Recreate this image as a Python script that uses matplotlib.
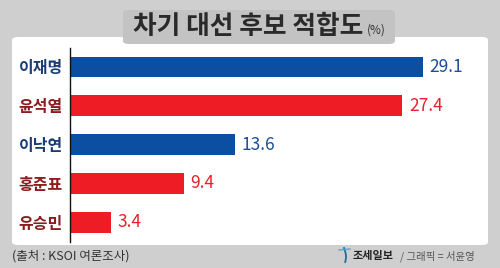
import matplotlib
matplotlib.use("Agg")
import matplotlib.pyplot as plt
from matplotlib.patches import FancyBboxPatch
import numpy as np

plt.rcParams['font.family'] = ['Noto Sans CJK KR', 'DejaVu Sans']

names = ['이재명', '윤석열', '이낙연', '홍준표', '유승민']
values = [29.1, 27.4, 13.6, 9.4, 3.4]
parties = ['blue', 'red', 'blue', 'red', 'red']

bar_col = {'blue': '#0b4ea2', 'red': '#ee1d25'}
name_col = {'blue': '#1b3d75', 'red': '#8c1c1f'}
val_col = {'blue': '#1d4f98', 'red': '#e5222b'}

W, H = 500, 268
fig = plt.figure(figsize=(5, 2.68), dpi=100)
fig.patch.set_facecolor('#cfcfcf')

def fx(x):
    return np.asarray(x) / W

def fy(y):
    return 1 - np.asarray(y) / H

# white panel
panel = FancyBboxPatch((fx(12), fy(245)), fx(488) - fx(12), fy(37) - fy(245),
                       boxstyle="round,pad=0,rounding_size=0.012",
                       transform=fig.transFigure, facecolor='white', edgecolor='none', zorder=0)
fig.patches.append(panel)

# title box
tbox = FancyBboxPatch((fx(123), fy(44)), fx(395) - fx(123), fy(10) - fy(44),
                      boxstyle="round,pad=0,rounding_size=0.012",
                      transform=fig.transFigure, facecolor='#c3c3c3', edgecolor='none', zorder=1)
fig.patches.append(tbox)
fig.text(fx(248), fy(27), '차기 대선 후보 적합도', ha='center', va='center',
         fontsize=18.5, fontweight='bold', color='#2a2a2a', zorder=2)
fig.text(fx(367), fy(30), '(%)', ha='left', va='center', fontsize=8.5, color='#333333', zorder=2)

# axes
ax = fig.add_axes([fx(70), fy(242), fx(470) - fx(70), fy(48) - fy(242)])
ax.set_zorder(5)
ax.set_facecolor('none')
ypos = list(range(len(names)))
ax.barh(ypos, values, height=0.54, color=[bar_col[p] for p in parties], zorder=2)
ax.set_xlim(0, 400 / 12.13)
ax.set_ylim(4.515, -0.49)
for s in ['top', 'right', 'bottom']:
    ax.spines[s].set_visible(False)
ax.spines['left'].set_color('#111111')
ax.spines['left'].set_linewidth(1.0)
ax.set_xticks([])
ax.set_yticks(ypos)
ax.set_yticklabels(names)
ax.tick_params(axis='y', length=0, pad=5, labelsize=11.5)
for lab, p in zip(ax.get_yticklabels(), parties):
    lab.set_color(name_col[p])
    lab.set_fontweight('bold')
for i, (v, p) in enumerate(zip(values, parties)):
    ax.text(v + 0.55, i, f'{v}', va='center', ha='left', fontsize=12.5, color=val_col[p])

# footer
fig.text(fx(12), fy(256), '(출처 : KSOI 여론조사)', ha='left', va='center', fontsize=9, color='#333333')
fig.text(fx(353), fy(256), '조세일보', ha='left', va='center', fontsize=8, fontweight='bold', color='#222222')
fig.text(fx(400), fy(256), '/ 그래픽 = 서윤영', ha='left', va='center', fontsize=7.5, color='#555555')
# logo
t = np.linspace(0, 1, 20)
lx = 344 + 2 * np.sin(t * 2.5)
ly = 248 + 14 * t
fig.add_artist(plt.Line2D(fx(lx), fy(ly), color='#1f6fa0', lw=1.3, transform=fig.transFigure))
fig.add_artist(plt.Line2D(fx([339, 350]), fy([250, 249]), color='#55aacc', lw=1.0, transform=fig.transFigure))

fig.savefig('out.png', dpi=100, facecolor=fig.get_facecolor())
